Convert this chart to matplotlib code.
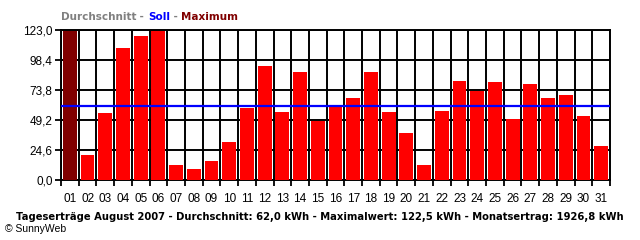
import matplotlib
matplotlib.use("Agg")
import matplotlib.pyplot as plt
import numpy as np

# daily yields, August 2007 (kWh)
days = ["%02d" % d for d in range(1, 32)]
yields = [122.5, 20.7, 55.1, 108.4, 117.7, 122.3, 12.5, 9.2, 15.8, 30.8,
          59.2, 93.7, 55.9, 88.7, 48.6, 61.7, 67.4, 88.7, 55.9, 38.7,
          12.5, 56.8, 81.4, 73.2, 80.5, 50.2, 78.9, 67.4, 69.9, 52.7, 28.1]
soll = 61.0
y_ticks = [0.0, 24.6, 49.2, 73.8, 98.4, 123.0]
y_labels = ["0,0", "24,6", "49,2", "73,8", "98,4", "123,0"]
footer = ("Tageserträge August 2007 - Durchschnitt: 62,0 kWh - "
          "Maximalwert: 122,5 kWh - Monatsertrag: 1926,8 kWh")

fig = plt.figure(figsize=(6.4, 2.4), dpi=100)
ax = fig.add_axes([61 / 640, 60 / 240, 549 / 640, 150 / 240])

x = np.arange(len(days))
imax = int(np.argmax(yields))
colors = ["#800000" if i == imax else "#ff0000" for i in x]

ax.set_axisbelow(True)
ax.bar(x, yields, width=0.78, color=colors, zorder=3)
ax.axhline(soll, color="#0000ff", lw=1.6, zorder=4)

ax.set_xlim(-0.5, len(days) - 0.5)
ax.set_ylim(0, 123.0)

ax.set_xticks(x)
ax.set_xticklabels(days, family="Liberation Sans", fontsize=8.5)
ax.set_xticks(np.arange(-0.5, len(days)), minor=True)
ax.tick_params(axis="x", which="major", length=0, pad=9)
ax.tick_params(axis="x", which="minor", length=4, width=1.3, color="black")
ax.set_yticks(y_ticks)
ax.set_yticklabels(y_labels, family="Liberation Sans", fontsize=8.5)
ax.tick_params(axis="y", length=4, width=1.3, pad=2)

ax.grid(axis="y", which="major", color="black", lw=1.4, zorder=1)
ax.grid(axis="x", which="minor", color="black", lw=1.4, zorder=1)
for s in ax.spines.values():
    s.set_color("black")
    s.set_linewidth(1.4)

# coloured heading, pieces chained one after the other
parts = [(" - ", "#808080"), ("Soll", "#0000ff"), (" - ", "#808080"),
         ("Maximum", "#800000")]
prev = fig.text(61 / 640, 1 - 17 / 240, "Durchschnitt", color="#808080",
                fontsize=7.5, weight="bold", va="center", ha="left")
for txt, col in parts:
    prev = ax.annotate(txt, xy=(1, 0), xycoords=prev, va="bottom", ha="left",
                       color=col, fontsize=7.5, weight="bold",
                       annotation_clip=False)

fig.text(320 / 640, 1 - 217 / 240, footer, fontsize=7.2, weight="bold",
         ha="center", va="center")
fig.text(5 / 640, 1 - 229 / 240, "© SunnyWeb", family="Liberation Sans",
         fontsize=7.5, ha="left", va="center")

fig.savefig("out.png", dpi=100)
